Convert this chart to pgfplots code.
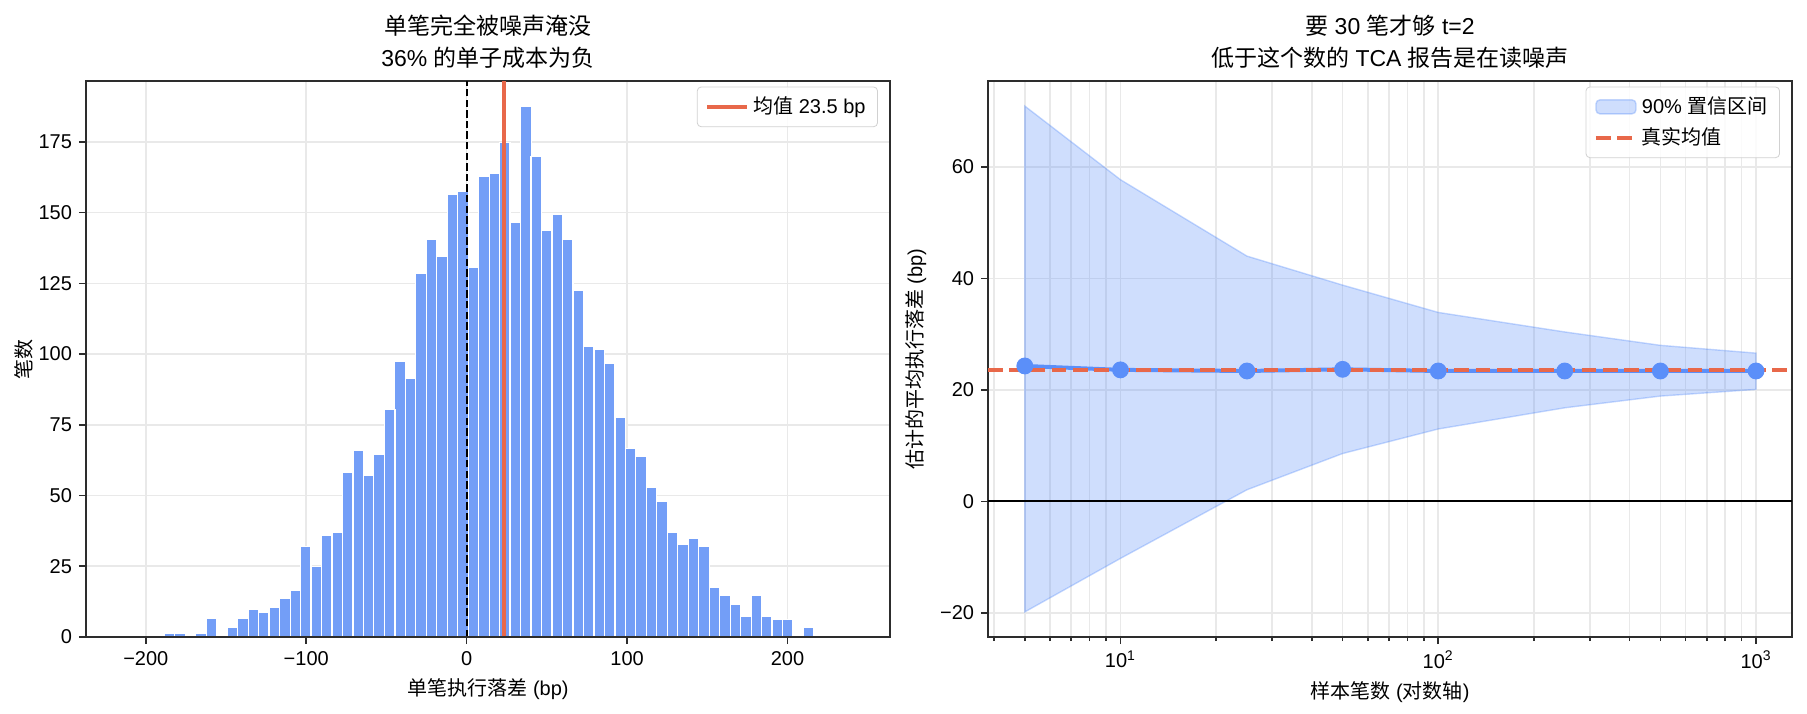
\documentclass[border=0pt]{standalone}
\usepackage{fontspec}
\setmainfont{Liberation Sans}
\newfontfamily\cjk{Noto Sans CJK SC}
\usepackage{pgfplots}
\pgfplotsset{compat=1.18}

\definecolor{cbar}{RGB}{115,158,247}
\definecolor{cblue}{RGB}{91,143,249}
\definecolor{cred}{RGB}{232,104,74}
\definecolor{cspine}{RGB}{45,45,45}
\definecolor{cgrid}{RGB}{233,233,233}

% histogram: bin centre, count
\pgfplotstableread{
x y
-185.2 1.4
-178.7 1.4
-165.6 1.4
-159.1 6.5
-146.0 3.5
-139.5 6.5
-132.9 9.8
-126.4 8.6
-119.9 10.4
-113.3 13.7
-106.8 16.5
-100.3 32
-93.7 25
-87.2 36
-80.7 37
-74.2 58
-67.6 66
-61.1 57
-54.6 64.5
-48.0 80.5
-41.5 97.5
-35.0 91.5
-28.4 128.5
-21.9 140.5
-15.4 134.5
-8.8 156.5
-2.3 157.5
4.2 130.6
10.8 162.8
17.3 163.7
23.8 174.8
30.4 146.7
36.9 187.6
43.4 169.8
50.0 143.8
56.5 149.5
63.0 140.6
69.5 122.5
76.1 102.6
82.6 101.5
89.1 96.7
95.7 77.7
102.2 66.7
108.7 63.9
115.3 52.8
121.8 47.8
128.3 37
134.9 32.6
141.4 34.7
147.9 31.9
154.5 17.5
161.0 14.6
167.5 11.4
174.1 7.4
180.6 14.6
187.1 7.4
193.7 6.3
200.2 6.3
213.3 3.5
}\histdata

% sample size, estimated mean
\pgfplotstableread{
n m
5 24.3
10 23.6
25 23.4
50 23.7
100 23.4
250 23.4
500 23.4
1000 23.4
}\meandata

% 90% band outline: upper edge left to right, lower edge right to left
\pgfplotstableread{
n v
5 70.9
10 57.7
25 44.0
50 38.8
100 33.9
250 30.4
500 28.0
1000 26.6
1000 20.1
500 18.9
250 16.8
100 13.0
50 8.6
25 2.1
10 -10.2
5 -19.8
}\banddata

\pgfplotsset{
  linelegend/.style={legend image code/.code={\draw[##1] (0pt,0pt) -- (20pt,0pt);}},
  boxlegend/.style={legend image code/.code={\draw[##1] (0pt,-3.5pt) rectangle (20pt,3.5pt);}},
  panel/.style={
    scale only axis, width=402pt, height=278pt,
    axis line style={draw=cspine, line width=0.9pt},
    tick style={draw=cspine, line width=0.8pt},
    major tick length=3.5pt, minor tick length=2pt,
    tick align=outside, xtick pos=bottom, ytick pos=left,
    grid style={draw=cgrid, line width=0.8pt},
    tick label style={font=\fontsize{10}{12}\selectfont},
    label style={font=\fontsize{10}{12}\selectfont},
    /pgf/number format/assume math mode=true,
    title style={font=\fontsize{11.5}{16}\selectfont, align=center, yshift=-3.5pt},
    legend style={font=\fontsize{10}{12}\selectfont, draw=black!18, rounded corners=2pt,
      fill=white, fill opacity=0.85, text opacity=1, row sep=1.5pt,
      inner xsep=4pt, inner ysep=3pt, at={(0.985,0.99)}, anchor=north east},
    legend cell align=left,
  },
}

\begin{document}
\begin{tikzpicture}
\useasboundingbox (-43pt,-38pt) rectangle (860.5pt,318.5pt);

\begin{axis}[panel, at={(0pt,0pt)}, anchor=south west,
  xmin=-237.3, xmax=263.9, ymin=0, ymax=196.5,
  xtick={-200,-100,0,100,200}, xticklabels={−200,−100,0,100,200},
  ytick={0,25,50,75,100,125,150,175},
  grid=major,
  title={{\cjk 单笔完全被噪声淹没}\\36\% {\cjk 的单子成本为负}},
  xlabel={{\cjk 单笔执行落差} (bp)}, ylabel={\cjk 笔数},
  ylabel style={at={(axis description cs:-0.0771,0.5)}, anchor=center},
  linelegend,
]
\addplot[ybar, bar width=6.53, fill=cbar, draw=white, line width=0.6pt, forget plot]
  table[x=x, y=y] {\histdata};
\addplot[black, line width=1pt, dash pattern=on 3.7pt off 1.6pt, forget plot]
  coordinates {(0,0) (0,196.5)};
\addplot[cred, line width=2pt] coordinates {(23.5,0) (23.5,196.5)};
\addlegendentry{{\cjk 均值} 23.5 bp}
% bottom spine back on top of the bars
\addplot[cspine, line width=0.9pt, forget plot] coordinates {(-237.3,0) (263.9,0)};
\end{axis}

\begin{axis}[panel, at={(451pt,0pt)}, anchor=south west,
  xmode=log, xmin=3.83, xmax=1298, ymin=-24.3, ymax=75.4,
  xtick={10,100,1000},
  xticklabels={10\textsuperscript{1},10\textsuperscript{2},10\textsuperscript{3}},
  minor xtick={4,5,6,7,8,9,20,30,40,50,60,70,80,90,200,300,400,500,600,700,800,900},
  ytick={-20,0,20,40,60}, yticklabels={−20,0,20,40,60},
  grid=both, minor grid style={draw=cgrid, line width=0.8pt},
  title={{\cjk 要} 30 {\cjk 笔才够} t=2\\{\cjk 低于这个数的} TCA {\cjk 报告是在读噪声}},
  xlabel={{\cjk 样本笔数} ({\cjk 对数轴})}, ylabel={{\cjk 估计的平均执行落差} (bp)},
  linelegend,
]
\addplot[fill=cblue, fill opacity=0.29, draw=cblue, draw opacity=0.35, line width=0.7pt,
  area legend, boxlegend]
  table[x=n, y=v] {\banddata} -- cycle;
\addlegendentry{90\% {\cjk 置信区间}}
\addplot[black, line width=1pt, forget plot] coordinates {(3.83,0) (1298,0)};
\addplot[cblue, line width=2pt, mark=*, mark size=3.2pt,
  mark options={draw=none, fill=cblue}, forget plot]
  table[x=n, y=m] {\meandata};
\addplot[cred, line width=2pt, dash pattern=on 7.4pt off 3.2pt]
  coordinates {(3.83,23.5) (1298,23.5)};
\addlegendentry{\cjk 真实均值}
\end{axis}
\end{tikzpicture}
\end{document}
